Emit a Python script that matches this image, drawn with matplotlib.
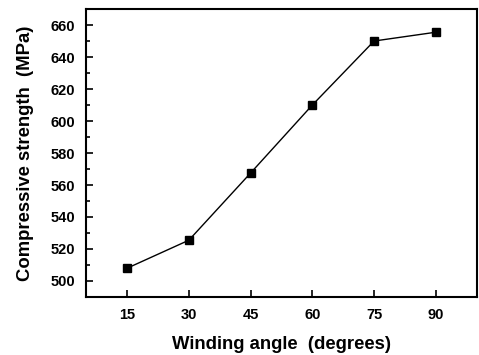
import numpy as np
import matplotlib
matplotlib.use('Agg')
import matplotlib.pyplot as plt
from matplotlib.ticker import MultipleLocator

plt.rcParams['font.family'] = ['Liberation Sans', 'DejaVu Sans']

# Winding angle vs compressive strength
angles = [15, 30, 45, 60, 75, 90]
strength = [508, 525.5, 567.5, 610, 650, 655.5]

fig = plt.figure(figsize=(4.79, 3.55), dpi=100)
ax = fig.add_axes([0.1795, 0.1634, 0.8163, 0.8112])

ax.plot(angles, strength, color='black', linewidth=1.0,
        marker='s', markersize=6, markerfacecolor='black', markeredgecolor='black')

ax.set_xlim(5, 100)
ax.set_ylim(490, 670)
ax.set_xticks(angles)
ax.yaxis.set_major_locator(MultipleLocator(20))
ax.yaxis.set_minor_locator(MultipleLocator(10))

ax.tick_params(axis='both', which='both', direction='in', labelsize=10.5, width=1.2)
ax.tick_params(axis='both', which='major', length=5)
ax.tick_params(axis='y', which='minor', length=3)
for lbl in ax.get_xticklabels() + ax.get_yticklabels():
    lbl.set_fontweight('bold')
ax.tick_params(axis='x', pad=8)
ax.tick_params(axis='y', pad=8)

for spine in ax.spines.values():
    spine.set_linewidth(1.5)

ax.set_xlabel('Winding angle  (degrees)', fontsize=13.3, fontweight='bold', labelpad=10)
ax.set_ylabel('Compressive strength  (MPa)', fontsize=13.3, fontweight='bold', labelpad=12)

fig.savefig('out.png', dpi=100)
